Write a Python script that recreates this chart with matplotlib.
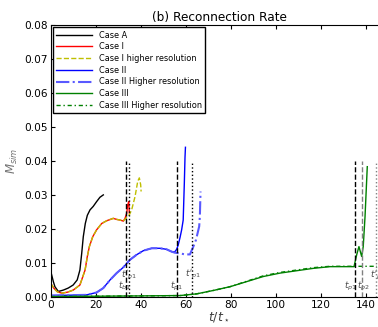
import matplotlib
matplotlib.use("Agg")
import matplotlib.pyplot as plt

# Case A
tA = [0.1, 1.2, 1.9, 3.4, 5.6, 7.8, 10.0, 11.8, 13.0, 13.8, 14.5, 15.4, 16.3, 17.5, 18.9, 20.4, 21.9, 23.4]
mA = [0.0074, 0.0045, 0.0030, 0.0016, 0.0020, 0.0026, 0.0035, 0.0050, 0.0079, 0.0128, 0.0177, 0.0216,
      0.0240, 0.0256, 0.0266, 0.0280, 0.0293, 0.0300]

# Case I
t1 = [0.0, 1.5, 3.0, 5.0, 7.5, 10.0, 13.0, 15.3, 16.3, 17.2, 18.7, 20.4, 22.7, 24.9, 27.8, 29.3, 30.8,
      32.3, 33.0, 33.8, 34.2, 34.7, 35.0]
m1 = [0.0040, 0.0025, 0.0015, 0.0011, 0.0014, 0.0020, 0.0035, 0.0079, 0.0119, 0.0148, 0.0177, 0.0197,
      0.0216, 0.0224, 0.0231, 0.0228, 0.0226, 0.0223, 0.0230, 0.0246, 0.0270, 0.0280, 0.0245]
# Case I higher resolution
t1h = [0.0, 1.5, 3.0, 5.0, 7.5, 10.0, 13.0, 15.3, 16.3, 17.2, 18.7, 20.4, 22.7, 24.9, 27.8, 29.3, 30.8,
       32.3, 33.0, 34.0, 35.0, 36.0, 37.5, 38.7, 39.4, 40.0, 40.2]
m1h = [0.0040, 0.0025, 0.0015, 0.0011, 0.0014, 0.0020, 0.0035, 0.0079, 0.0119, 0.0148, 0.0177, 0.0197,
       0.0216, 0.0224, 0.0231, 0.0228, 0.0226, 0.0223, 0.0228, 0.0235, 0.0242, 0.0256, 0.0295, 0.0340,
       0.0350, 0.0330, 0.0310]

# Case II
t2 = [0.0, 8.0, 16.0, 20.4, 23.4, 26.4, 29.3, 32.3, 35.2, 38.2, 41.2, 44.9, 48.6, 51.5, 53.8, 55.2,
      56.0, 56.7, 57.5, 58.2, 58.9, 59.4, 59.7, 59.9]
m2 = [0.0004, 0.0005, 0.0006, 0.0013, 0.0026, 0.0050, 0.0070, 0.0087, 0.0109, 0.0124, 0.0136, 0.0143,
      0.0143, 0.0140, 0.0133, 0.0133, 0.0140, 0.0153, 0.0175, 0.0197, 0.0226, 0.0334, 0.0410, 0.0440]
# Case II higher resolution
t2h = [0.0, 8.0, 16.0, 20.4, 23.4, 26.4, 29.3, 32.3, 35.2, 38.2, 41.2, 44.9, 48.6, 51.5, 53.8, 55.2,
       57.5, 59.7, 61.9, 63.4, 64.6, 66.0, 66.3, 66.6]
m2h = [0.0004, 0.0005, 0.0006, 0.0013, 0.0026, 0.0050, 0.0070, 0.0087, 0.0109, 0.0124, 0.0136, 0.0143,
       0.0143, 0.0140, 0.0133, 0.0130, 0.0128, 0.0125, 0.0125, 0.0148, 0.0168, 0.0207, 0.0236, 0.0310]

# Case III
t3 = [0.0, 20.0, 40.0, 57.5, 64.9, 72.3, 79.7, 87.1, 94.5, 101.9, 109.3, 116.7, 124.1, 131.6, 134.8,
      136.0, 137.0, 138.2, 138.9, 139.7, 140.7]
m3 = [0.0001, 0.0002, 0.0003, 0.0004, 0.0009, 0.0019, 0.0030, 0.0045, 0.0060, 0.0070, 0.0077, 0.0084,
      0.0089, 0.0089, 0.0089, 0.0124, 0.0148, 0.0119, 0.0148, 0.0236, 0.0383]
# Case III higher resolution
t3h = [0.0, 20.0, 40.0, 57.5, 64.9, 72.3, 79.7, 87.1, 94.5, 101.9, 109.3, 116.7, 124.1, 131.6, 134.8,
       138.0, 141.0, 145.0]
m3h = [0.0001, 0.0002, 0.0003, 0.0004, 0.0009, 0.0019, 0.0030, 0.0046, 0.0062, 0.0072, 0.0079, 0.0086,
       0.0090, 0.0090, 0.0090, 0.0090, 0.0090, 0.0090]

# marker times and labels
vline_t = [33.3, 34.9, 56.0, 63.0, 135.2, 138.5, 144.5]
vline_style = ['--', ':', '--', ':', '--', '--', ':']
vline_color = ['k', 'k', 'k', 'k', 'k', '0.5', '0.5']
label_text = [r"$t'_{p1}$", r"$t_{b1}$", r"$t_{p1}$", r"$t'_{p1}$", r"$t_{p1}$", r"$t_{p2}$", r"$t'_{p}$"]
label_t = [34.6, 33.0, 56.0, 63.0, 133.4, 139.2, 144.5]
label_m = [0.0062, 0.0032, 0.0032, 0.0066, 0.0032, 0.0032, 0.0064]

fig = plt.figure(figsize=(3.78, 3.27), dpi=100)
ax = fig.add_axes([0.134, 0.092, 0.893, 0.832])

ax.plot(tA, mA, color='k', lw=1, label='Case A')
ax.plot(t1, m1, color='r', lw=1, label='Case I')
ax.plot(t1h, m1h, color='y', lw=1, ls='--', label='Case I higher resolution')
ax.plot(t2, m2, color='b', lw=1, label='Case II')
ax.plot(t2h, m2h, color=(0.35, 0.35, 1.0), lw=1.5, ls='-.', label='Case II Higher resolution')
ax.plot(t3, m3, color='g', lw=1, label='Case III')
ax.plot(t3h, m3h, color='g', lw=1, ls=(0, (3, 2, 1, 2)), label='Case III Higher resolution')

for t, s, c in zip(vline_t, vline_style, vline_color):
    ax.plot([t, t], [0, 0.04], ls=s, color=c, lw=1, zorder=3)
for txt, t, m in zip(label_text, label_t, label_m):
    ax.text(t, m, txt, fontsize=6.5, color='0.3', ha='center', va='center', zorder=1)

ax.set_xlim(0, 150)
ax.set_ylim(0, 0.08)
ax.set_xticks(range(0, 160, 20))
ax.set_yticks([0.00, 0.01, 0.02, 0.03, 0.04, 0.05, 0.06, 0.07, 0.08])
ax.set_yticklabels(['0.00', '0.01', '0.02', '0.03', '0.04', '0.05', '0.06', '0.07', '0.08'])
ax.tick_params(direction='in', top=True, right=True, labelsize=7.6, length=3, pad=2)
ax.set_xlabel(r"$t/t_\star$", fontsize=9, color='0.25', labelpad=0)
ax.set_ylabel(r"$M_{sim}$", fontsize=8.5, color='0.45', labelpad=3)
ax.set_title("(b) Reconnection Rate", fontsize=8.7, pad=3)
ax.legend(loc='upper left', fontsize=5.9, handlelength=4.4, fancybox=False, framealpha=1,
          edgecolor='k', borderaxespad=0.3, labelspacing=0.33)

fig.savefig("out.png", dpi=100)
